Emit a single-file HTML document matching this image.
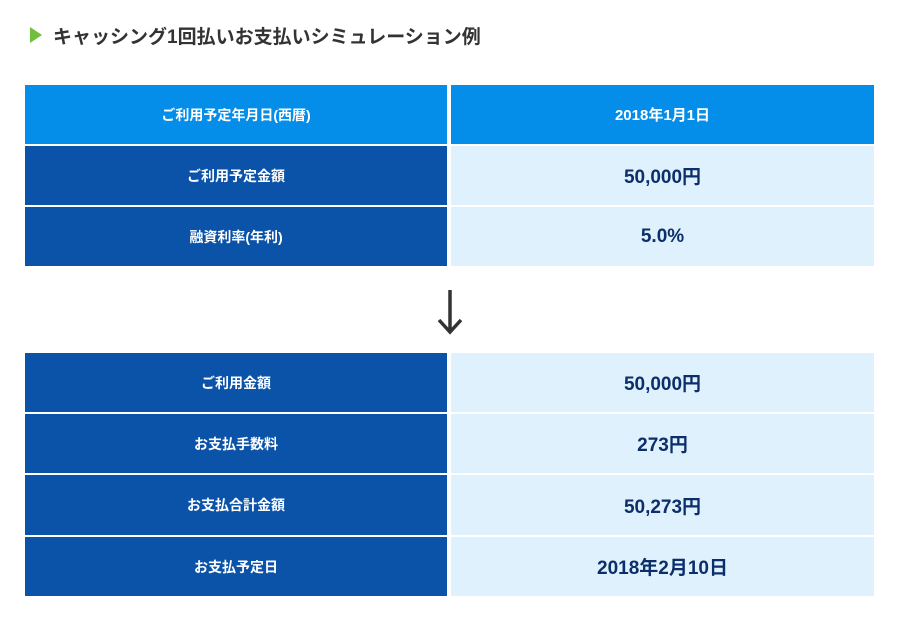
<!DOCTYPE html>
<html><head><meta charset="utf-8"><style>
body{margin:0;width:900px;height:620px;background:#fff;font-family:"Liberation Sans","Noto Sans CJK JP",sans-serif;position:relative;overflow:hidden}
.c{position:absolute;display:flex;align-items:center;justify-content:center;font-weight:bold}
.l{left:25px;width:422px;color:#fff;font-size:14px;background:#0b52a9}
.r{left:451px;width:423px;color:#0c2f6b;font-size:19px;background:#dff1fc;font-weight:600}
.h{background:#058ee9}
</style></head><body>
<div style="position:absolute;left:30px;top:27px;width:0;height:0;border-top:8px solid transparent;border-bottom:8px solid transparent;border-left:12px solid #6fbf3c"></div>
<div style="position:absolute;left:53px;top:22px;font-size:19px;font-weight:bold;color:#333">キャッシング1回払いお支払いシミュレーション例</div>

<div class="c l h" style="top:85px;height:59px">ご利用予定年月日(西暦)</div>
<div class="c r h" style="top:85px;height:59px;color:#fff;font-size:15px">2018年1月1日</div>
<div class="c l" style="top:146px;height:59px">ご利用予定金額</div>
<div class="c r" style="top:146px;height:59px">50,000円</div>
<div class="c l" style="top:207px;height:59px">融資利率(年利)</div>
<div class="c r" style="top:207px;height:59px">5.0%</div>

<svg style="position:absolute;left:435px;top:288px" width="30" height="48"><path d="M15 2V44M4 32L15 44L26 32" stroke="#333" stroke-width="3.5" fill="none"/></svg>

<div class="c l" style="top:353px;height:59px">ご利用金額</div>
<div class="c r" style="top:353px;height:59px">50,000円</div>
<div class="c l" style="top:414px;height:59px">お支払手数料</div>
<div class="c r" style="top:414px;height:59px">273円</div>
<div class="c l" style="top:475px;height:60px">お支払合計金額</div>
<div class="c r" style="top:475px;height:60px">50,273円</div>
<div class="c l" style="top:537px;height:59px">お支払予定日</div>
<div class="c r" style="top:537px;height:59px">2018年2月10日</div>
</body></html>
